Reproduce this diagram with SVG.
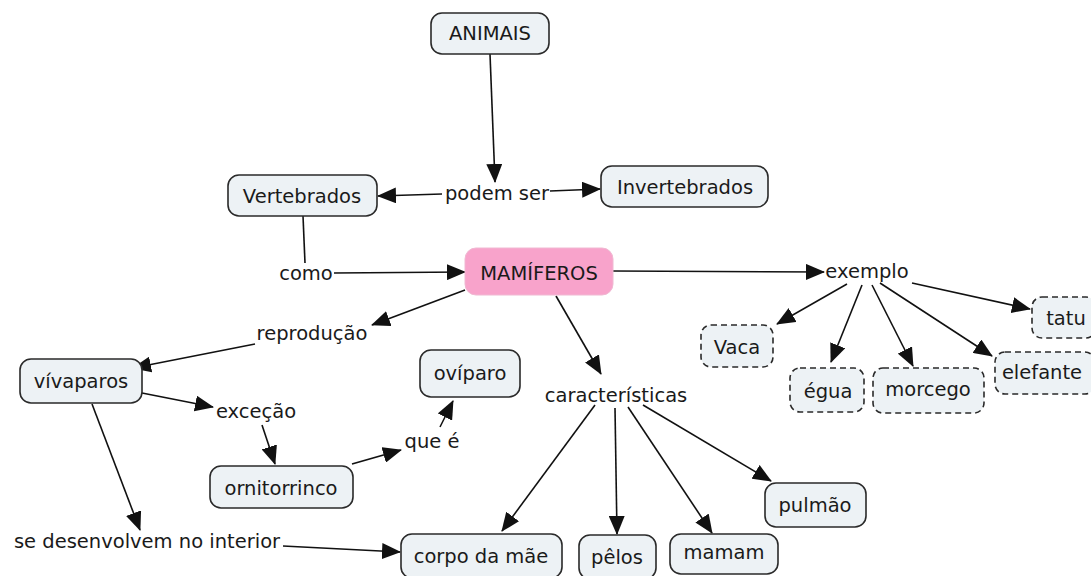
<svg xmlns="http://www.w3.org/2000/svg" width="1091" height="576" viewBox="0 0 1091 576">
<style>
text{font-family:"DejaVu Sans","Verdana",sans-serif;font-size:19.5px;fill:#1a1a1a;text-anchor:middle;dominant-baseline:central}
.n{fill:#edf2f5;stroke:#2a2a2a;stroke-width:1.6}
.d{fill:#edf2f5;stroke:#2a2a2a;stroke-width:1.6;stroke-dasharray:6,4}
.c line{stroke:#111;stroke-width:1.6;fill:none}
.a{marker-end:url(#ah)}
</style>
<defs>
<marker id="ah" markerUnits="userSpaceOnUse" markerWidth="20" markerHeight="16" refX="18" refY="8" orient="auto">
<path d="M0,0 L19,8 L0,16 Z" fill="#111"/>
</marker>
</defs>
<rect width="1091" height="576" fill="#fff"/>
<g class="c" id="connectors">
<line class="a" x1="490" y1="54" x2="495" y2="182"/>
<line class="a" x1="442" y1="194" x2="378" y2="196"/>
<line class="a" x1="550" y1="191" x2="600" y2="189"/>
<line x1="303" y1="216" x2="305" y2="263"/>
<line class="a" x1="334" y1="273" x2="465" y2="272"/>
<line class="a" x1="613" y1="271" x2="824" y2="272"/>
<line class="a" x1="847" y1="284" x2="777" y2="324"/>
<line class="a" x1="862" y1="285" x2="831" y2="362"/>
<line class="a" x1="872" y1="285" x2="913" y2="366"/>
<line class="a" x1="880" y1="283" x2="992" y2="356"/>
<line class="a" x1="912" y1="283" x2="1030" y2="309"/>
<line class="a" x1="465" y1="290" x2="372" y2="325"/>
<line class="a" x1="255" y1="344" x2="133" y2="368"/>
<line class="a" x1="142" y1="393" x2="213" y2="407"/>
<line class="a" x1="262" y1="425" x2="275" y2="464"/>
<line class="a" x1="352" y1="464" x2="401" y2="450"/>
<line class="a" x1="440" y1="427" x2="453" y2="401"/>
<line class="a" x1="92" y1="404" x2="140" y2="530"/>
<line class="a" x1="283" y1="546" x2="400" y2="552"/>
<line class="a" x1="556" y1="296" x2="601" y2="374"/>
<line class="a" x1="595" y1="405" x2="502" y2="531"/>
<line class="a" x1="615" y1="408" x2="617" y2="534"/>
<line class="a" x1="628" y1="407" x2="712" y2="533"/>
<line class="a" x1="643" y1="405" x2="771" y2="481"/>
</g>
<g id="animais"><rect class="n" x="431" y="13" width="118" height="41" rx="11"/><text x="490" y="33">ANIMAIS</text></g>
<g id="vertebrados"><rect class="n" x="228" y="175" width="149" height="41" rx="11"/><text x="302" y="196">Vertebrados</text></g>
<g id="invertebrados"><rect class="n" x="601" y="166" width="167" height="41" rx="11"/><text x="685" y="187">Invertebrados</text></g>
<g id="podem-ser"><text x="497" y="193">podem ser</text></g>
<g id="como"><text x="306" y="273">como</text></g>
<g id="mamiferos"><rect x="465" y="248" width="148" height="47" rx="11" fill="#f8a3cb" stroke="#f0b8d2" stroke-width="1"/><text x="539" y="273">MAMÍFEROS</text></g>
<g id="exemplo"><text x="867" y="271">exemplo</text></g>
<g id="vaca"><rect class="d" x="701" y="325" width="72" height="42" rx="10"/><text x="737" y="347">Vaca</text></g>
<g id="egua"><rect class="d" x="790" y="368" width="74" height="44" rx="10"/><text x="828" y="391">égua</text></g>
<g id="morcego"><rect class="d" x="873" y="368" width="111" height="45" rx="10"/><text x="928" y="389">morcego</text></g>
<g id="elefante"><rect class="d" x="995" y="352" width="100" height="42" rx="10"/><text x="1042" y="372">elefante</text></g>
<g id="tatu"><rect class="d" x="1032" y="297" width="64" height="41" rx="10"/><text x="1066" y="318">tatu</text></g>
<g id="reproducao"><text x="312" y="333">reprodução</text></g>
<g id="vivaparos"><rect class="n" x="20" y="359" width="122" height="44" rx="11"/><text x="81" y="381">vívaparos</text></g>
<g id="excecao"><text x="256" y="411">exceção</text></g>
<g id="ornitorrinco"><rect class="n" x="210" y="466" width="143" height="42" rx="11"/><text x="281" y="488">ornitorrinco</text></g>
<g id="que-e"><text x="432" y="441">que é</text></g>
<g id="oviparo"><rect class="n" x="420" y="350" width="100" height="47" rx="11"/><text x="470" y="373">ovíparo</text></g>
<g id="se-desenvolvem"><text x="147" y="541">se desenvolvem no interior</text></g>
<g id="corpo"><rect class="n" x="401" y="534" width="161" height="44" rx="11"/><text x="481" y="556">corpo da mãe</text></g>
<g id="caracteristicas"><text x="616" y="395">características</text></g>
<g id="pelos"><rect class="n" x="579" y="535" width="77" height="44" rx="11"/><text x="617" y="557">pêlos</text></g>
<g id="mamam"><rect class="n" x="670" y="534" width="108" height="40" rx="11"/><text x="724" y="552">mamam</text></g>
<g id="pulmao"><rect class="n" x="765" y="483" width="101" height="44" rx="11"/><text x="815" y="505">pulmão</text></g>
</svg>
